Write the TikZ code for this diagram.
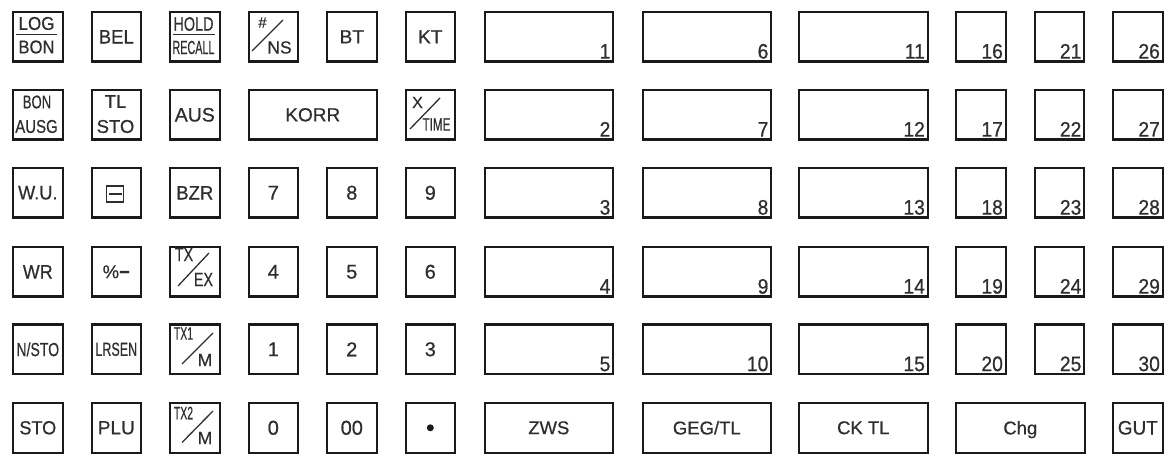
\documentclass[tikz,border=0pt]{standalone}
\usepackage{graphicx}
\usepackage{fontspec}
\setmainfont{Liberation Sans}[FakeBold=0.6]
\usetikzlibrary{calc}
\definecolor{ink}{HTML}{1A1A1A}
\definecolor{txt}{HTML}{2E2E2E}
\newcommand{\cnd}[2]{\scalebox{#1}[1]{#2}}
\newcommand{\fs}[1]{\fontsize{#1}{#1}\selectfont}
\tikzset{
  kb/.style={draw=ink, line width=2.1pt, anchor=north west, minimum height=49.5pt,
             minimum width=49.5pt, inner sep=0pt, text=txt, font=\fs{19}},
  widekb/.style={kb, minimum width=128.5pt, font=\fs{18.5}},
  lbl/.style={inner sep=0pt, text=txt, font=\fs{18.5}},
  num/.style={inner sep=0pt, text=txt, anchor=base east, font=\fs{21}},
  bar/.style={draw=txt, line width=1.3pt},
  digit/.style={font=\fs{20}},
}
\begin{document}
\begin{tikzpicture}[x=1pt,y=-1pt]
\useasboundingbox (0,0) rectangle (1168,454);

% ---------- numbered boxes 1..30 ----------
\foreach \c/\x/\w in {0/483.5/128.5pt,1/641.5/128.5pt,2/798/128.5pt,3/955/49.5pt,4/1033.5/49.5pt,5/1112/49.5pt}{
  \foreach \r/\y in {0/11,1/89,2/167,3/246,4/323.5}{
    \pgfmathtruncatemacro{\n}{5*\c+\r+1}
    \node[kb, minimum width=\w] (p\n) at (\x,\y) {};
    \node[num] (pl\n) at ($(p\n.south east)+(-3.5,-4)$) {\cnd{0.92}{\n}};
  }
}

% ---------- bottom right row ----------
\node[widekb] (zws) at (483.5,402) {ZWS};
\node[widekb] (geg) at (641.5,402) {GEG/TL};
\node[widekb] (ck)  at (798,402)   {CK TL};
\node[widekb] (chg) at (955,402)   {Ch\smash{g}};
\node[kb]     (gut) at (1112,402)  {\fs{19.5}\cnd{0.97}{GUT}};

% ---------- row 1 ----------
\node[kb] (k11) at (12,11) {};
\node[lbl] (k11a) at (36.5,23.5) {\cnd{0.92}{LOG}};
\draw[bar] (16,34.5) -- (57,34.5);
\node[lbl] (k11b) at (36.5,47) {\cnd{0.9}{BON}};

\node[kb] (k12) at (90.5,11) {\fs{19.5}\cnd{0.95}{BEL}};

\node[kb] (k13) at (169,11) {};
\node[lbl, font=\fs{19.5}] (k13a) at (193.5,24) {\cnd{0.74}{HOLD}};
\draw[bar] (172.5,34.5) -- (214.5,34.5);
\node[lbl, font=\fs{19}] (k13b) at (193.5,47.5) {\cnd{0.57}{RECALL}};

\node[kb] (k14) at (247.5,11) {};
\node[lbl, font=\fs{15}] (k14a) at (262.5,22.5) {\#};
\draw[bar] (252,51) -- (283,20);
\node[lbl, font=\fs{17.5}] (k14b) at (279.5,47.5) {NS};

\node[kb] (k15) at (326,11) {BT};
\node[kb] (k16) at (404.5,11) {KT};

% ---------- row 2 ----------
\node[kb] (k21) at (12,89) {};
\node[lbl] (k21a) at (37,102) {\cnd{0.71}{BON}};
\node[lbl] (k21b) at (36.5,126.5) {\cnd{0.81}{AUSG}};

\node[kb] (k22) at (90.5,89) {};
\node[lbl] (k22a) at (115.5,101.5) {TL};
\node[lbl] (k22b) at (115.5,126.5) {STO};

\node[kb] (k23) at (169,89) {\fs{19.5}AUS};
\node[kb, minimum width=128.5pt] (korr) at (247.5,89) {KORR};

\node[kb] (k26) at (404.5,89) {};
\node[lbl, font=\fs{16}] (k26a) at (417.5,102.5) {X};
\draw[bar] (410,129) -- (440,98);
\node[lbl, font=\fs{18}] (k26b) at (436.5,124.5) {\cnd{0.65}{TIME}};

% ---------- row 3 ----------
\node[kb] (k31) at (12,167) {\fs{19.5}\cnd{0.93}{W.U.}};
\node[kb] (k32) at (90.5,167) {};
\node[draw=txt, line width=1.1pt, minimum width=17pt, minimum height=16pt, inner sep=0pt] (k32s) at (115.25,194) {};
\draw[draw=txt, line width=1.5pt] ($(k32s.west)+(2.5,0)$) -- ($(k32s.east)+(-2.5,0)$);
\node[kb] (k33) at (169,167) {\fs{19.5}\cnd{0.95}{BZR}};
\node[kb, digit] (k34) at (247.5,167) {7};
\node[kb, digit] (k35) at (326,167) {8};
\node[kb, digit] (k36) at (404.5,167) {9};

% ---------- row 4 ----------
\node[kb] (k41) at (12,246) {\fs{19.5}\cnd{0.92}{WR}};
\node[kb] (k42) at (90.5,246) {\fs{18.5}\%\textbf{−}};
\node[kb] (k43) at (169,246) {};
\node[lbl, font=\fs{19}] (k43a) at (184,254.5) {\cnd{0.75}{TX}};
\draw[bar] (178,286) -- (209,253);
\node[lbl, font=\fs{19}] (k43b) at (203.5,279.5) {\cnd{0.75}{EX}};
\node[kb, digit] (k44) at (247.5,246) {4};
\node[kb, digit] (k45) at (326,246) {5};
\node[kb, digit] (k46) at (404.5,246) {6};

% ---------- row 5 ----------
\node[kb] (k51) at (12,323.5) {\cnd{0.74}{N/STO}};
\node[kb] (k52) at (90.5,323.5) {\cnd{0.66}{LRSEN}};
\node[kb] (k53) at (169,323.5) {};
\node[lbl, font=\fs{18}] (k53a) at (183.5,333.5) {\cnd{0.58}{TX1}};
\draw[bar] (182,364) -- (213,333);
\node[lbl, font=\fs{17.5}] (k53b) at (205,360) {M};
\node[kb, digit] (k54) at (247.5,323.5) {1};
\node[kb, digit] (k55) at (326,323.5) {2};
\node[kb, digit] (k56) at (404.5,323.5) {3};

% ---------- row 6 ----------
\node[kb] (k61) at (12,402) {\cnd{0.95}{STO}};
\node[kb] (k62) at (90.5,402) {PLU};
\node[kb] (k63) at (169,402) {};
\node[lbl, font=\fs{18}] (k63a) at (183.5,413) {\cnd{0.58}{TX2}};
\draw[bar] (182,442.5) -- (213,411);
\node[lbl, font=\fs{17.5}] (k63b) at (205,438) {M};
\node[kb, digit] (k64) at (247.5,402) {0};
\node[kb, digit] (k65) at (326,402) {00};
\node[kb] (k66) at (404.5,402) {};
\node[circle, fill=ink, minimum size=7pt, inner sep=0pt] (k66d) at (k66.center) {};
\end{tikzpicture}
\end{document}
